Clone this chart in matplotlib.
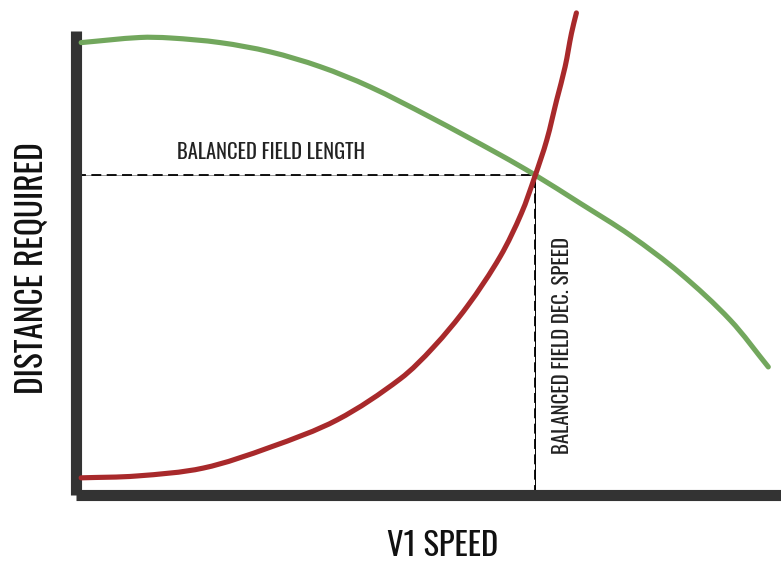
import matplotlib
matplotlib.use("Agg")
import matplotlib.pyplot as plt
from matplotlib import font_manager
from matplotlib.path import Path
from matplotlib.patches import PathPatch

# font: a condensed one like the reference
names = set(f.name for f in font_manager.fontManager.ttflist)
FONT = "DejaVu Sans"
for cand in ["Oswald Light", "Oswald ExtraLight", "Oswald"]:
    if cand in names:
        FONT = cand
        break
plt.rcParams['font.family'] = [FONT, 'DejaVu Sans']

# continued takeoff distance (green)
go_speed = [0.8, 9.1, 13.4, 20.5, 27.6, 34.7, 41.7, 50.2, 60.2, 65.1, 71.5, 78.6, 85.7, 92.8, 98.2]
go_dist = [97.5, 98.6, 98.5, 97.5, 95.5, 92.3, 88.0, 81.5, 73.3, 69.0, 62.9, 56.0, 47.8, 37.7, 27.6]

# accelerate-stop distance (red)
stop_speed = [0.8, 8.7, 18.1, 27.6, 37.1, 46.0, 50.7, 55.5, 60.2, 63.2, 65.1, 66.8, 68.2, 69.4, 70.3, 71.0]
stop_dist = [3.7, 4.1, 5.8, 10.3, 16.2, 25.0, 31.8, 40.6, 51.4, 60.7, 68.6, 76.5, 85.1, 92.3, 99.5, 103.9]

bfl_speed = 65.1
bfl_dist = 69.0

W, H = 781, 564
AX_W, AX_H = W - 75.5, 495 - 31


def curve(xs, ys):
    # smooth bezier path through the read points (chord-length hermite)
    sx, sy = AX_W / 100, AX_H / 100
    n = len(xs)
    t = [0.0]
    for i in range(1, n):
        d = ((xs[i] - xs[i - 1]) * sx) ** 2 + ((ys[i] - ys[i - 1]) * sy) ** 2
        t.append(t[-1] + d ** 0.5)
    mx, my = [], []
    for i in range(n):
        a = max(i - 1, 0)
        b = min(i + 1, n - 1)
        mx.append((xs[b] - xs[a]) / (t[b] - t[a]))
        my.append((ys[b] - ys[a]) / (t[b] - t[a]))
    verts = [(xs[0], ys[0])]
    codes = [Path.MOVETO]
    for i in range(n - 1):
        h = (t[i + 1] - t[i]) / 3
        verts += [(xs[i] + mx[i] * h, ys[i] + my[i] * h),
                  (xs[i + 1] - mx[i + 1] * h, ys[i + 1] - my[i + 1] * h),
                  (xs[i + 1], ys[i + 1])]
        codes += [Path.CURVE4] * 3
    return Path(verts, codes)


fig = plt.figure(figsize=(W / 100, H / 100), dpi=100)
ax = fig.add_axes([75.5 / W, (H - 495) / H, AX_W / W, AX_H / H])
ax.set_xlim(0, 100)
ax.set_ylim(0, 100)

for xs, ys, col in [(go_speed, go_dist, "#72a75d"), (stop_speed, stop_dist, "#a8292b")]:
    p = PathPatch(curve(xs, ys), fill=False, edgecolor=col, lw=3.7,
                  capstyle="round", joinstyle="round", clip_on=False, zorder=3)
    ax.add_patch(p)

# balanced field guide lines
ax.plot([0, bfl_speed], [bfl_dist, bfl_dist], color="#888888", lw=0.6, zorder=2)
ax.plot([bfl_speed, bfl_speed], [0, bfl_dist], color="black", lw=0.7, zorder=2)
ax.plot([0, bfl_speed], [bfl_dist, bfl_dist], color="black", lw=1.3,
        dashes=(5.5, 3), zorder=2)
ax.plot([bfl_speed, bfl_speed], [0, bfl_dist], color="black", lw=1.3,
        dashes=(5.5, 3), zorder=2)

ax.text(14.4, 72.4, "BALANCED FIELD LENGTH", fontsize=14.8, fontweight="light",
        ha="left", va="baseline", color="#222222")
ax.text(69.0, 32.3, "BALANCED FIELD DEC. SPEED", fontsize=15, fontweight="light",
        rotation=90, ha="center", va="center", color="#222222")

ax.set_xlabel("V1 SPEED", fontsize=23.5, fontweight="light", color="#111111")
ax.xaxis.label.set_va("center")
ax.xaxis.set_label_coords(0.52, -0.11)
ax.set_ylabel("DISTANCE REQUIRED", fontsize=24, fontweight="light", color="#111111")
ax.yaxis.label.set_va("center")
ax.yaxis.set_label_coords((32 - 75.5) / AX_W, 0.49)

for s in ["top", "right"]:
    ax.spines[s].set_visible(False)
for s in ["left", "bottom"]:
    ax.spines[s].set_color("#333333")
    ax.spines[s].set_linewidth(8)
    ax.spines[s].set_capstyle("butt")
ax.set_xticks([])
ax.set_yticks([])

fig.savefig("out.png", dpi=100)
